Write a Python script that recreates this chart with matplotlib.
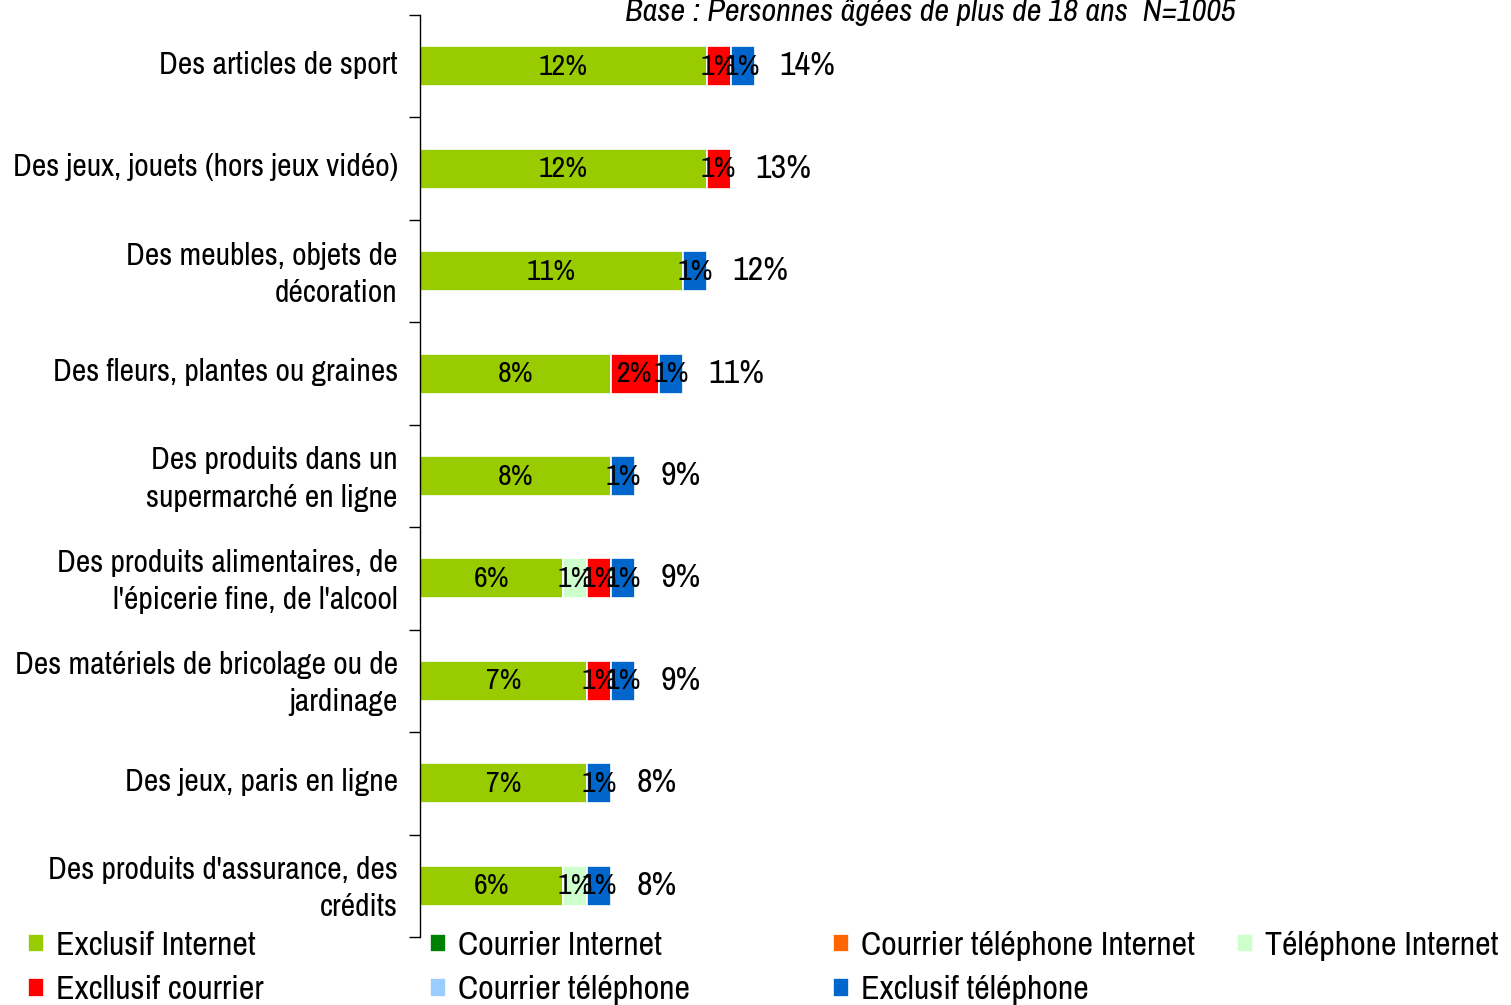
import numpy as np
import matplotlib
matplotlib.use('Agg')
import matplotlib.pyplot as plt

plt.rcParams['font.family'] = ['Archivo Narrow', 'DejaVu Sans']

categories = [
    "Des articles de sport",
    "Des jeux, jouets (hors jeux vidéo)",
    "Des meubles, objets de\ndécoration",
    "Des fleurs, plantes ou graines",
    "Des produits dans un\nsupermarché en ligne",
    "Des produits alimentaires, de\nl'épicerie fine, de l'alcool",
    "Des matériels de bricolage ou de\njardinage",
    "Des jeux, paris en ligne",
    "Des produits d'assurance, des\ncrédits",
]

# stacking order of the series (left to right in each bar)
series_names = ["Exclusif Internet", "Courrier Internet", "Courrier téléphone Internet",
                "Téléphone Internet", "Excllusif courrier", "Courrier téléphone",
                "Exclusif téléphone"]
series_colors = ["#99CC00", "#008000", "#FF6600", "#CCFFCC", "#FF0000", "#99CCFF", "#0066CC"]

exclusif_internet = [12, 12, 11, 8, 8, 6, 7, 7, 6]
courrier_internet = [0, 0, 0, 0, 0, 0, 0, 0, 0]
courrier_tel_internet = [0, 0, 0, 0, 0, 0, 0, 0, 0]
telephone_internet = [0, 0, 0, 0, 0, 1, 0, 0, 1]
exclusif_courrier = [1, 1, 0, 2, 0, 1, 1, 0, 0]
courrier_telephone = [0, 0, 0, 0, 0, 0, 0, 0, 0]
exclusif_telephone = [1, 0, 1, 1, 1, 1, 1, 1, 1]
totals = [14, 13, 12, 11, 9, 9, 9, 8, 8]

series = [exclusif_internet, courrier_internet, courrier_tel_internet, telephone_internet,
          exclusif_courrier, courrier_telephone, exclusif_telephone]

fig = plt.figure(figsize=(15.11, 10.05), dpi=100)
ax = fig.add_axes([420 / 1511, 68 / 1005, 1080 / 1511, 922 / 1005])

y = np.arange(len(categories))
left = np.zeros(len(categories))
handles = []
for name, vals, col in zip(series_names, series, series_colors):
    vals = np.array(vals, dtype=float)
    h = ax.barh(y, vals, left=left, height=0.39, color=col, edgecolor='white',
                linewidth=1.2, label=name)
    handles.append(h)
    for yi, (l, v) in enumerate(zip(left, vals)):
        if v > 0:
            ax.text(l + v / 2, yi, f"{int(v)}%", ha='center', va='center', fontsize=21.5)
    left += vals

for yi, t in enumerate(totals):
    ax.text(t + 1.05, yi, f"{t}%", ha='left', va='center', fontsize=24.5)

ax.set_xlim(0, 1080 / 23.9)
ax.set_ylim(len(categories) - 0.5, -0.5)

ax.set_yticks(np.arange(len(categories) + 1) - 0.5)
ax.set_yticklabels([])
ax.set_yticks(y - 0.04, minor=True)
ax.set_yticklabels(categories, minor=True, fontsize=22.8, ha='right', linespacing=1.4)
ax.tick_params(axis='y', which='major', length=8, width=1, direction='out')
ax.tick_params(axis='y', which='minor', length=0, pad=16)
ax.set_xticks([])
for s in ['top', 'right', 'bottom']:
    ax.spines[s].set_visible(False)
ax.spines['left'].set_linewidth(1)

fig.text(930 / 1511, 1 - 12 / 1005, "Base : Personnes âgées de plus de 18 ans  N=1005",
         ha='center', va='center', fontsize=23.2, style='italic')

# legend: four equal-width columns like the reference
columns = [[0, 4], [1, 5], [2, 6], [3]]
col_x = [28, 430, 833, 1237]
for idx, x in zip(columns, col_x):
    fig.legend([handles[i] for i in idx], [series_names[i] for i in idx],
               loc='upper left', bbox_to_anchor=(x / 1511, 1 - 931 / 1005),
               frameon=False, fontsize=24.5, handlelength=0.47, handleheight=0.47,
               handletextpad=0.35, labelspacing=0.42, borderpad=0, borderaxespad=0)

fig.savefig('out.png', dpi=100)
